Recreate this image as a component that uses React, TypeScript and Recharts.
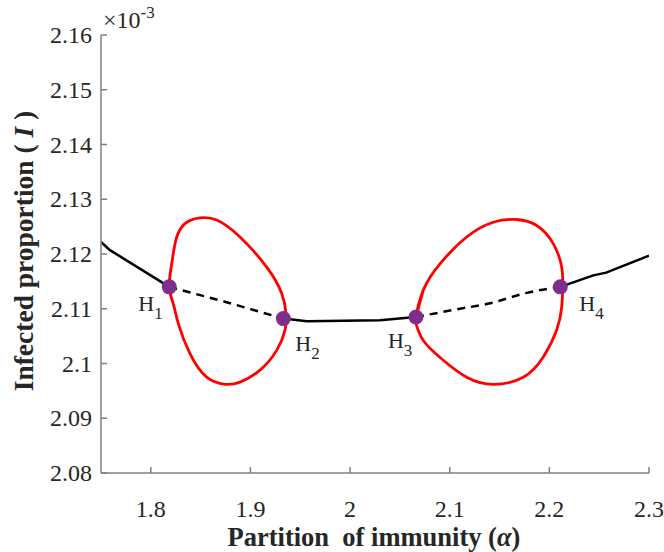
import React from "react";
import {
  ComposedChart,
  Line,
  Scatter,
  XAxis,
  YAxis,
  Customized,
} from "recharts";

// axis ticks (values in units of 10^-3 on the y axis)
const xTicks = [1.8, 1.9, 2, 2.1, 2.2, 2.3];
const yTicks = [2.08, 2.09, 2.1, 2.11, 2.12, 2.13, 2.14, 2.15, 2.16];

// stable / unstable equilibrium branch
const leftBranch = [
  { x: 1.75, y: 2.1222 },
  { x: 1.759, y: 2.1207 },
  { x: 1.8185, y: 2.114 },
];
const dashedLeft = [
  { x: 1.8185, y: 2.114 },
  { x: 1.876, y: 2.1112 },
  { x: 1.933, y: 2.1082 },
];
const middleBranch = [
  { x: 1.933, y: 2.1082 },
  { x: 1.9566, y: 2.1077 },
  { x: 2.03, y: 2.1079 },
  { x: 2.0661, y: 2.1085 },
];
const dashedRight = [
  { x: 2.0661, y: 2.1085 },
  { x: 2.1103, y: 2.11 },
  { x: 2.1406, y: 2.111 },
  { x: 2.1772, y: 2.1129 },
  { x: 2.211, y: 2.114 },
];
const rightBranch = [
  { x: 2.211, y: 2.114 },
  { x: 2.2441, y: 2.1161 },
  { x: 2.257, y: 2.1166 },
  { x: 2.3, y: 2.1197 },
];

// periodic orbit envelopes (max / min of I), traced around each loop
const loopOne = [
  { x: 1.8185, y: 2.114 },
  { x: 1.821, y: 2.1182 },
  { x: 1.826, y: 2.1231 },
  { x: 1.836, y: 2.1258 },
  { x: 1.8494, y: 2.1266 },
  { x: 1.8661, y: 2.1262 },
  { x: 1.8895, y: 2.1231 },
  { x: 1.9163, y: 2.1176 },
  { x: 1.9314, y: 2.1128 },
  { x: 1.9357, y: 2.1091 },
  { x: 1.9347, y: 2.1061 },
  { x: 1.9263, y: 2.1024 },
  { x: 1.9096, y: 2.0988 },
  { x: 1.8895, y: 2.0966 },
  { x: 1.8745, y: 2.0962 },
  { x: 1.8561, y: 2.0975 },
  { x: 1.8393, y: 2.1018 },
  { x: 1.8276, y: 2.1073 },
  { x: 1.8226, y: 2.1109 },
];
const loopTwo = [
  { x: 2.0661, y: 2.1085 },
  { x: 2.0735, y: 2.1134 },
  { x: 2.0902, y: 2.1182 },
  { x: 2.117, y: 2.1231 },
  { x: 2.1437, y: 2.1258 },
  { x: 2.1672, y: 2.1263 },
  { x: 2.1873, y: 2.1252 },
  { x: 2.2039, y: 2.1219 },
  { x: 2.2124, y: 2.1176 },
  { x: 2.2134, y: 2.114 },
  { x: 2.2124, y: 2.1103 },
  { x: 2.2073, y: 2.1061 },
  { x: 2.1939, y: 2.1012 },
  { x: 2.1738, y: 2.0975 },
  { x: 2.1437, y: 2.0962 },
  { x: 2.117, y: 2.0975 },
  { x: 2.0935, y: 2.1006 },
  { x: 2.0735, y: 2.1042 },
  { x: 2.0661, y: 2.1073 },
];

// Hopf bifurcation points
const hopfPoints = [
  { x: 1.8185, y: 2.114, name: "H", sub: "1" },
  { x: 1.933, y: 2.1082, name: "H", sub: "2" },
  { x: 2.0661, y: 2.1085, name: "H", sub: "3" },
  { x: 2.211, y: 2.114, name: "H", sub: "4" },
];

// where each H label sits relative to its dot
const labelOffset: Record<string, { dx: number; dy: number }> = {
  "1": { dx: -31, dy: 24 },
  "2": { dx: 12, dy: 32 },
  "3": { dx: -28, dy: 31 },
  "4": { dx: 19, dy: 24 },
};

// wrap a loop round so the spline closes smoothly
const closeLoop = (pts: { x: number; y: number }[]) => [
  pts[pts.length - 1],
  ...pts,
  pts[0],
  pts[1],
];

const FONT = "Liberation Serif, DejaVu Serif, serif";
const serif = { fontFamily: FONT };
const AXIS = "#7f7f7f";
const TEXT = "#262626";
const PURPLE = "#7E2F8E";

const fmt = (v: number) => String(Number(v.toFixed(2)));

const XTick = (props: any) => {
  const { x, y, payload } = props;
  return (
    <g>
      <line x1={x} y1={y} x2={x} y2={y - 6} stroke={AXIS} strokeWidth={1.5} />
      <text
        x={x}
        y={y + 44}
        textAnchor="middle"
        style={{ ...serif, fontSize: 24 }}
        fill={TEXT}
      >
        {fmt(payload.value)}
      </text>
    </g>
  );
};

const YTick = (props: any) => {
  const { x, y, payload } = props;
  return (
    <g>
      <line x1={x} y1={y} x2={x + 6} y2={y} stroke={AXIS} strokeWidth={1.5} />
      <text
        x={x - 9}
        y={y + 8}
        textAnchor="end"
        style={{ ...serif, fontSize: 24 }}
        fill={TEXT}
      >
        {fmt(payload.value)}
      </text>
    </g>
  );
};

const HopfDot = (props: any) => {
  const { cx, cy, payload } = props;
  const off = labelOffset[payload.sub];
  return (
    <g>
      <circle cx={cx} cy={cy} r={7.5} fill={PURPLE} />
      <text x={cx + off.dx} y={cy + off.dy} style={{ ...serif, fontSize: 22 }} fill={TEXT}>
        {payload.name}
        <tspan style={{ fontSize: 17 }} dy={8}>
          {payload.sub}
        </tspan>
      </text>
    </g>
  );
};

const Labels = () => (
  <g style={serif} fill={TEXT}>
    <text x={103} y={28} style={{ ...serif, fontSize: 24 }}>
      ×10
      <tspan style={{ fontSize: 17 }} dy={-10}>
        -3
      </tspan>
    </text>
    <text
      x={374}
      y={546}
      textAnchor="middle"
      style={{ ...serif, fontSize: 26.5, fontWeight: "bold" }}
    >
      Partition{"\u00a0\u00a0"}of immunity (<tspan style={{ fontStyle: "italic" }}>α</tspan>)
    </text>
    <text
      transform="translate(33, 251) rotate(-90)"
      textAnchor="middle"
      style={{ ...serif, fontSize: 27.5, fontWeight: "bold" }}
    >
      Infected proportion ({"\u00a0"}
      <tspan style={{ fontStyle: "italic" }}>I</tspan>
      {"\u00a0"})
    </text>
  </g>
);

export default function App() {
  return (
    <div style={{ position: "absolute", left: 0, top: 0, background: "#fff" }}>
      <ComposedChart
        width={664}
        height={552}
        margin={{ top: 35, right: 15, bottom: 0, left: 0 }}
      >
        <XAxis
          type="number"
          dataKey="x"
          domain={[1.75, 2.3]}
          ticks={xTicks}
          allowDataOverflow
          height={79}
          tickLine={false}
          tickSize={0}
          tickMargin={0}
          axisLine={{ stroke: AXIS, strokeWidth: 1.5 }}
          tick={<XTick />}
        />
        <YAxis
          type="number"
          dataKey="y"
          domain={[2.08, 2.16]}
          ticks={yTicks}
          allowDataOverflow
          width={101}
          tickLine={false}
          tickSize={0}
          tickMargin={0}
          axisLine={{ stroke: AXIS, strokeWidth: 1.5 }}
          tick={<YTick />}
        />
        <Line data={leftBranch} dataKey="y" type="linear" stroke="#000" strokeWidth={2.5} dot={false} activeDot={false} isAnimationActive={false} />
        <Line data={dashedLeft} dataKey="y" type="linear" stroke="#000" strokeWidth={2.5} strokeDasharray="8 6" dot={false} activeDot={false} isAnimationActive={false} />
        <Line data={middleBranch} dataKey="y" type="linear" stroke="#000" strokeWidth={2.5} dot={false} activeDot={false} isAnimationActive={false} />
        <Line data={dashedRight} dataKey="y" type="monotone" stroke="#000" strokeWidth={2.5} strokeDasharray="8 6" dot={false} activeDot={false} isAnimationActive={false} />
        <Line data={rightBranch} dataKey="y" type="linear" stroke="#000" strokeWidth={2.5} dot={false} activeDot={false} isAnimationActive={false} />
        <Line data={closeLoop(loopOne)} dataKey="y" type="natural" stroke="#ff0000" strokeWidth={2.8} dot={false} activeDot={false} isAnimationActive={false} />
        <Line data={closeLoop(loopTwo)} dataKey="y" type="natural" stroke="#ff0000" strokeWidth={2.8} dot={false} activeDot={false} isAnimationActive={false} />
        <Scatter data={hopfPoints} dataKey="y" shape={<HopfDot />} isAnimationActive={false} />
        <Customized component={Labels} />
      </ComposedChart>
    </div>
  );
}
